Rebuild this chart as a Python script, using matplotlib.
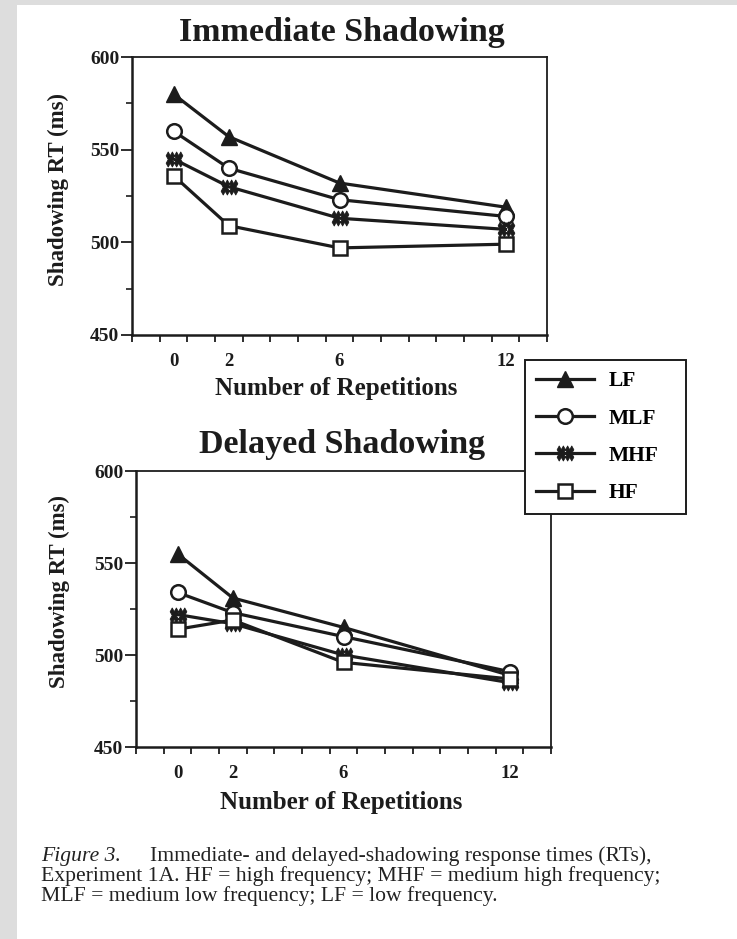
import numpy as np
import matplotlib
matplotlib.use("Agg")
import matplotlib.pyplot as plt
from matplotlib.markers import MarkerStyle
from matplotlib.path import Path
from matplotlib.transforms import Affine2D
from matplotlib.patches import Rectangle

# ---- data -------------------------------------------------------------
repetitions = [0, 2, 6, 12]
groups = ["LF", "MLF", "MHF", "HF"]

immediate_lf = [580, 557, 532, 519]
immediate_mlf = [560, 540, 523, 514]
immediate_mhf = [545, 530, 513, 507]
immediate_hf = [536, 509, 497, 499]

delayed_lf = [555, 531, 515, 489]
delayed_mlf = [534, 523, 510, 491]
delayed_mhf = [522, 517, 500, 485]
delayed_hf = [514, 519, 496, 487]

y_major = [450, 500, 550, 600]
y_minor = [475, 525, 575]

# ---- figure -----------------------------------------------------------
W, H = 737, 939
SERIF = "Liberation Serif"
INK = "#1c1c1c"

fig = plt.figure(figsize=(W / 100, H / 100), dpi=100, facecolor="#dddddd")
fig.patches.append(Rectangle((17 / W, 0), 1 - 17 / W, 1 - 5 / H,
                             transform=fig.transFigure, facecolor="white",
                             edgecolor="none", zorder=-10))


def fx(px):
    return px / W


def fy(py):
    return 1 - py / H


def px_axes(left, top, right, bottom):
    return fig.add_axes([fx(left), fy(bottom), (right - left) / W, (bottom - top) / H])


def double_x():
    ms = MarkerStyle("X")
    p = ms.get_path().transformed(ms.get_transform())
    left = p.transformed(Affine2D().scale(0.55, 1.0).translate(-0.28, 0))
    right = p.transformed(Affine2D().scale(0.55, 1.0).translate(0.28, 0))
    return Path.make_compound_path(left, right)


MHF_MARK = double_x()

styles = {
    "LF": dict(marker="^", markersize=11, markerfacecolor=INK),
    "MLF": dict(marker="o", markersize=10.5, markerfacecolor="white", markeredgewidth=1.8),
    "MHF": dict(marker=MHF_MARK, markersize=12, markerfacecolor=INK, markeredgewidth=0.6),
    "HF": dict(marker="s", markersize=10, markerfacecolor="white", markeredgewidth=1.8),
}


def style_axes(ax):
    ax.set_xlim(-1.5, 13.5)
    ax.set_ylim(450, 600)
    ax.set_xticks(repetitions)
    ax.set_xticklabels([str(r) for r in repetitions])
    ax.set_xticks(np.arange(-1.5, 13.6, 1.0), minor=True)
    ax.set_yticks(y_major)
    ax.set_yticks(y_minor, minor=True)
    ax.tick_params(axis="x", which="major", length=0, pad=13)
    ax.tick_params(axis="x", which="minor", length=5, width=1.3, color=INK)
    ax.tick_params(axis="y", which="major", length=8, width=1.3, pad=1, color=INK)
    ax.tick_params(axis="y", which="minor", length=4, width=1.2, color=INK)
    for lab in ax.get_xticklabels():
        lab.set_fontfamily(SERIF)
        lab.set_fontweight("bold")
        lab.set_fontsize(13.5)
        lab.set_color(INK)
    for lab in ax.get_yticklabels():
        lab.set_fontfamily(SERIF)
        lab.set_fontweight("bold")
        lab.set_fontsize(14)
        lab.set_color(INK)
    for side, sp in ax.spines.items():
        sp.set_color(INK)
        sp.set_linewidth(1.8 if side in ("left", "bottom") else 1.3)


def draw_panel(ax, series):
    handles = []
    for name, vals in zip(groups, series):
        (h,) = ax.plot(repetitions, vals, color=INK, linewidth=2.3,
                       markeredgecolor=INK, label=name, clip_on=False,
                       **styles[name])
        handles.append(h)
    style_axes(ax)
    return handles


ax_top = px_axes(132, 57, 547, 335)
handles = draw_panel(ax_top, [immediate_lf, immediate_mlf, immediate_mhf, immediate_hf])

ax_bot = px_axes(136, 471, 551, 747)
draw_panel(ax_bot, [delayed_lf, delayed_mlf, delayed_mhf, delayed_hf])

# titles and axis labels
title_kw = dict(fontfamily=SERIF, fontweight="bold", color=INK, ha="center", va="center")
fig.text(fx(342), fy(33), "Immediate Shadowing", fontsize=24.5, **title_kw)
fig.text(fx(342), fy(445), "Delayed Shadowing", fontsize=24.5, **title_kw)
fig.text(fx(336), fy(388), "Number of Repetitions", fontsize=18, **title_kw)
fig.text(fx(341), fy(803), "Number of Repetitions", fontsize=18, **title_kw)
fig.text(fx(58), fy(190), "Shadowing RT (ms)", fontsize=16.5, rotation=90, **title_kw)
fig.text(fx(59), fy(591), "Shadowing RT (ms)", fontsize=16.5, rotation=90, **title_kw)

# legend
leg_top = fy(360)
leg = fig.legend(handles=handles, labels=groups, loc="upper left",
                 bbox_to_anchor=(fx(525), leg_top - 0.01, fx(686) - fx(525), 0.01),
                 mode="expand", borderaxespad=0, frameon=True, fancybox=False,
                 handlelength=2.7, handletextpad=0.65, labelspacing=0.8,
                 borderpad=0.52, prop=dict(family=SERIF, weight="bold", size=15.5))
leg.get_frame().set_edgecolor(INK)
leg.get_frame().set_linewidth(1.4)
leg.get_frame().set_facecolor("white")
leg.get_frame().set_alpha(1)
leg.set_zorder(10)

# caption
cap = 15.6
cap_kw = dict(fontfamily=SERIF, fontsize=cap, color="#222222", ha="left", va="center")
fig.text(fx(41), fy(856), "Figure 3.", style="italic", **cap_kw)
fig.text(fx(150), fy(856), "Immediate- and delayed-shadowing response times (RTs),", **cap_kw)
fig.text(fx(41), fy(876), "Experiment 1A. HF = high frequency; MHF = medium high frequency;", **cap_kw)
fig.text(fx(41), fy(896), "MLF = medium low frequency; LF = low frequency.", **cap_kw)

fig.savefig("out.png", dpi=100, facecolor=fig.get_facecolor())
